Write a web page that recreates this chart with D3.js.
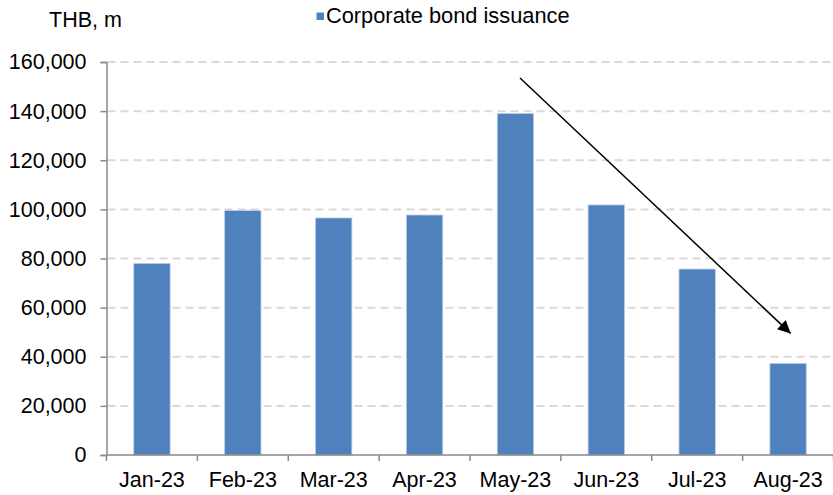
<!DOCTYPE html>
<html>
<head>
<meta charset="utf-8">
<script src="https://cdn.jsdelivr.net/npm/d3@7/dist/d3.min.js"></script>
<style>
  html, body { margin: 0; padding: 0; background: #ffffff; }
  svg { display: block; font-family: "Liberation Sans", Arial, sans-serif; }
</style>
</head>
<body>
<svg id="chart" width="833" height="495"></svg>
<script>
// Monthly corporate bond issuance, THB million
const months = ["Jan-23", "Feb-23", "Mar-23", "Apr-23", "May-23", "Jun-23", "Jul-23", "Aug-23"];
const issuance = [78000, 99500, 96500, 97700, 139000, 101800, 75700, 37300];
const yTicks = [0, 20000, 40000, 60000, 80000, 100000, 120000, 140000, 160000];
const seriesName = "Corporate bond issuance";
const unitLabel = "THB, m";
// Trend arrow, from above May down toward Aug (category, value)
const arrowFrom = ["May-23", 153500];
const arrowTo = ["Aug-23", 49500];

const svg = d3.select("#chart");
const W = 833;
const x0 = 106.5, x1 = 833.5;
const yBottom = 455, yTop = 62;

const x = d3.scaleBand().domain(months).range([x0, x1])
  .paddingInner(0.6).paddingOuter(0.3);
const y = d3.scaleLinear().domain([0, 160000]).range([yBottom, yTop]);

const fontSize = 21.5;
const axisColor = "#898989";

// Dashed horizontal gridlines
svg.append("g")
  .selectAll("line")
  .data(yTicks.filter(d => d > 0))
  .join("line")
  .attr("x1", x0 + 1).attr("x2", W)
  .attr("y1", d => y(d)).attr("y2", d => y(d))
  .attr("stroke", "#d9d9d9")
  .attr("stroke-width", 2)
  .attr("stroke-dasharray", "8,5");

// Bars
svg.append("g")
  .selectAll("rect")
  .data(months.map((m, i) => ({ m, v: issuance[i] })))
  .join("rect")
  .attr("x", d => x(d.m))
  .attr("width", x.bandwidth())
  .attr("y", d => y(d.v))
  .attr("height", d => yBottom - y(d.v))
  .attr("fill", "#4f81bd")
  .attr("stroke", "#b9cde5")
  .attr("stroke-width", 0.8);

// Y axis
const yAxis = d3.axisLeft(y)
  .tickValues(yTicks)
  .tickSize(6)
  .tickPadding(14)
  .tickFormat(d3.format(",.0f"));
const gy = svg.append("g").attr("transform", `translate(${x0},0)`).call(yAxis);
gy.select(".domain").attr("stroke", axisColor).attr("stroke-width", 1.5);
gy.selectAll(".tick line").attr("stroke", axisColor).attr("stroke-width", 1.5);
gy.selectAll(".tick text")
  .attr("fill", "#000").attr("font-size", fontSize)
  .attr("font-family", "Liberation Sans, Arial, sans-serif");

// X axis with ticks on category boundaries
const gx = svg.append("g").attr("transform", `translate(0,${yBottom})`);
gx.append("line")
  .attr("x1", x0).attr("x2", x1)
  .attr("stroke", axisColor).attr("stroke-width", 1.5);
const step = x.step();
gx.selectAll("line.tick")
  .data(d3.range(months.length + 1))
  .join("line")
  .attr("class", "tick")
  .attr("x1", i => x0 + i * step).attr("x2", i => x0 + i * step)
  .attr("y1", 0).attr("y2", 6)
  .attr("stroke", axisColor).attr("stroke-width", 1.5);
gx.selectAll("text")
  .data(months)
  .join("text")
  .attr("x", d => x(d) + x.bandwidth() / 2)
  .attr("y", 32)
  .attr("text-anchor", "middle")
  .attr("font-size", fontSize)
  .attr("fill", "#000")
  .text(d => d);

// Unit label
svg.append("text")
  .attr("x", 49).attr("y", 27)
  .attr("font-size", fontSize)
  .attr("fill", "#000")
  .text(unitLabel);

// Legend
svg.append("rect")
  .attr("x", 316.5).attr("y", 12.5)
  .attr("width", 7.5).attr("height", 7.5)
  .attr("fill", "#4f81bd");
svg.append("text")
  .attr("x", 326).attr("y", 23)
  .attr("font-size", 21.8)
  .attr("fill", "#000")
  .text(seriesName);

// Trend arrow
svg.append("defs").append("marker")
  .attr("id", "arrowhead")
  .attr("viewBox", "0 0 10 10")
  .attr("refX", 10).attr("refY", 5)
  .attr("markerWidth", 10).attr("markerHeight", 8.5)
  .attr("markerUnits", "strokeWidth")
  .attr("orient", "auto")
  .append("path")
  .attr("d", "M0,0 L10,5 L0,10 Z")
  .attr("fill", "#000");

const ax = m => x(m) + x.bandwidth() / 2;
svg.append("line")
  .attr("x1", ax(arrowFrom[0]) + 4.6).attr("y1", y(arrowFrom[1]))
  .attr("x2", ax(arrowTo[0]) + 2.6).attr("y2", y(arrowTo[1]))
  .attr("stroke", "#000")
  .attr("stroke-width", 1.5)
  .attr("marker-end", "url(#arrowhead)");
</script>
</body>
</html>
